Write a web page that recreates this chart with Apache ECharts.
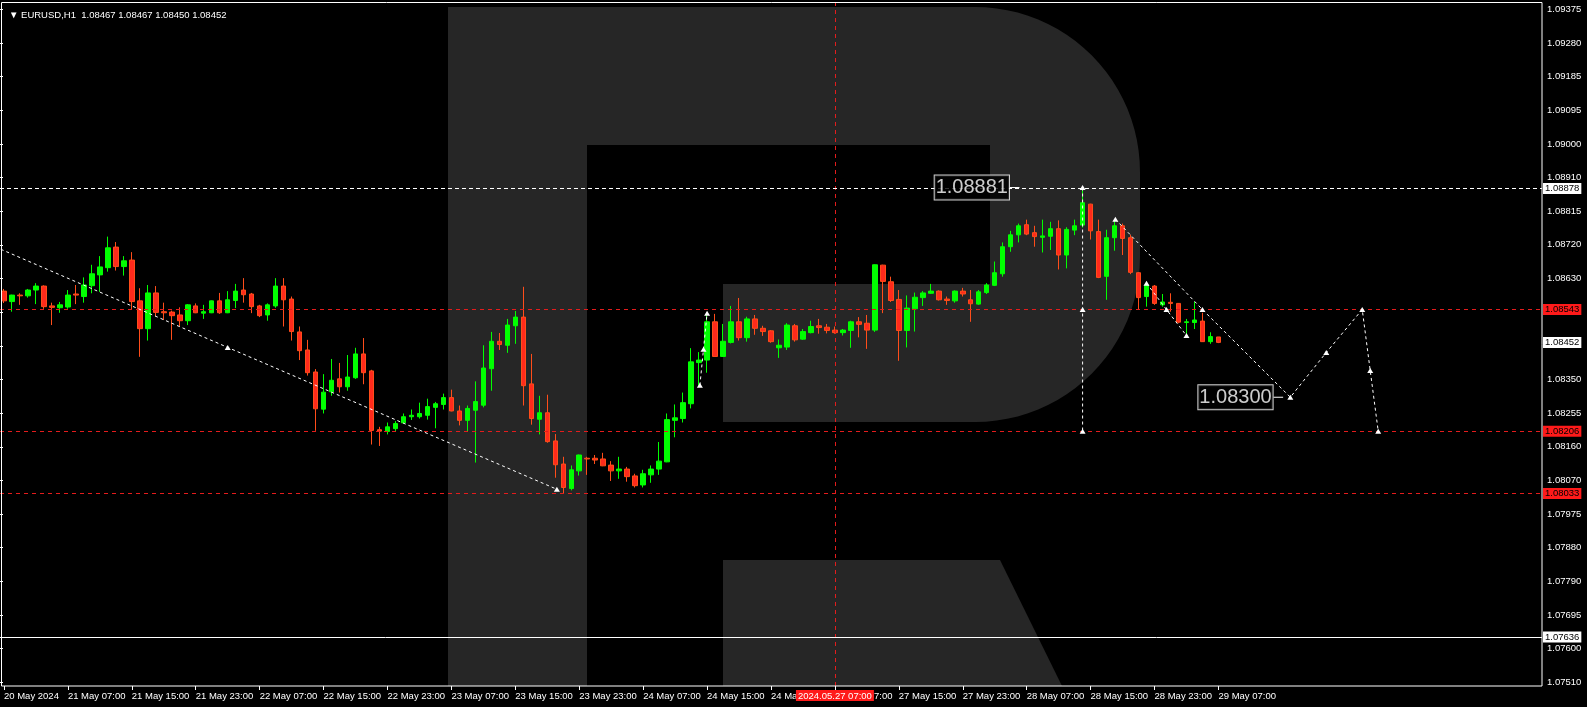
<!DOCTYPE html>
<html><head><meta charset="utf-8">
<script src="https://cdn.jsdelivr.net/npm/echarts@6/dist/echarts.min.js"></script>
<style>html,body{margin:0;padding:0;background:#000;overflow:hidden}#c{width:1587px;height:707px}</style>
</head><body><div id="c"></div>
<script>
// ---------- data ----------
const chartTitle = '▼ EURUSD,H1  1.08467 1.08467 1.08450 1.08452';
const firstBarTime = '2024-05-20T23:00:00Z';
const futureSlots = 40;
const timeTickLabels = ['20 May 2024','21 May 07:00','21 May 15:00','21 May 23:00','22 May 07:00','22 May 15:00','22 May 23:00','23 May 07:00','23 May 15:00','23 May 23:00','24 May 07:00','24 May 15:00','24 May 23:00','27 May 07:00','27 May 15:00','27 May 23:00','28 May 07:00','28 May 15:00','28 May 23:00','29 May 07:00'];
const priceTickLabels = ['1.07510','1.07600','1.07695','1.07790','1.07880','1.07975','1.08070','1.08160','1.08255','1.08350','1.08440','1.08535','1.08630','1.08720','1.08815','1.08910','1.09000','1.09095','1.09185','1.09280','1.09375'];
// hourly candles: [open, close, low, high]
const candles = [
[1.08594,1.08567,1.08561,1.08600],[1.08565,1.08583,1.08537,1.08584],[1.08583,1.08581,1.08556,1.08588],[1.08581,1.08597,1.08576,1.08600],
[1.08597,1.08608,1.08558,1.08616],[1.08608,1.08551,1.08545,1.08610],[1.08553,1.08549,1.08500,1.08562],[1.08548,1.08556,1.08534,1.08564],
[1.08550,1.08583,1.08545,1.08597],[1.08586,1.08583,1.08558,1.08611],[1.08579,1.08611,1.08562,1.08632],[1.08609,1.08642,1.08588,1.08667],
[1.08639,1.08661,1.08592,1.08691],[1.08659,1.08714,1.08648,1.08745],[1.08716,1.08662,1.08651,1.08730],[1.08662,1.08678,1.08637,1.08691],
[1.08680,1.08565,1.08544,1.08702],[1.08567,1.08490,1.08412,1.08602],[1.08490,1.08589,1.08457,1.08611],[1.08589,1.08535,1.08525,1.08608],
[1.08537,1.08534,1.08514,1.08562],[1.08536,1.08526,1.08459,1.08540],[1.08528,1.08512,1.08496,1.08549],[1.08512,1.08556,1.08500,1.08558],
[1.08553,1.08534,1.08533,1.08560],[1.08533,1.08537,1.08517,1.08556],[1.08534,1.08567,1.08533,1.08568],[1.08567,1.08534,1.08531,1.08589],
[1.08534,1.08570,1.08533,1.08594],[1.08568,1.08594,1.08547,1.08614],[1.08597,1.08584,1.08562,1.08630],[1.08586,1.08551,1.08533,1.08589],
[1.08553,1.08526,1.08522,1.08556],[1.08528,1.08556,1.08512,1.08560],[1.08553,1.08608,1.08548,1.08630],[1.08608,1.08570,1.08496,1.08630],
[1.08572,1.08482,1.08457,1.08579],[1.08481,1.08429,1.08403,1.08496],[1.08431,1.08368,1.08360,1.08459],[1.08370,1.08268,1.08207,1.08378],
[1.08267,1.08314,1.08255,1.08364],[1.08315,1.08347,1.08304,1.08406],[1.08351,1.08329,1.08313,1.08395],[1.08329,1.08356,1.08318,1.08417],
[1.08354,1.08420,1.08351,1.08437],[1.08420,1.08368,1.08336,1.08464],[1.08373,1.08208,1.08169,1.08376],[1.08210,1.08206,1.08165,1.08218],
[1.08205,1.08218,1.08197,1.08230],[1.08213,1.08227,1.08205,1.08234],[1.08229,1.08246,1.08228,1.08255],[1.08246,1.08250,1.08237,1.08266],
[1.08246,1.08255,1.08241,1.08285],[1.08250,1.08274,1.08238,1.08296],[1.08272,1.08282,1.08214,1.08287],[1.08280,1.08299,1.08266,1.08310],
[1.08299,1.08262,1.08261,1.08321],[1.08262,1.08236,1.08222,1.08277],[1.08236,1.08269,1.08204,1.08277],[1.08264,1.08288,1.08119,1.08344],
[1.08278,1.08381,1.08272,1.08444],[1.08379,1.08455,1.08318,1.08481],[1.08455,1.08446,1.08431,1.08478],[1.08444,1.08500,1.08423,1.08517],
[1.08498,1.08522,1.08448,1.08539],[1.08522,1.08332,1.08277,1.08606],[1.08337,1.08241,1.08224,1.08420],[1.08239,1.08257,1.08197,1.08304],
[1.08257,1.08177,1.08174,1.08307],[1.08179,1.08113,1.08077,1.08198],[1.08115,1.08050,1.08033,1.08135],[1.08047,1.08099,1.08042,1.08111],
[1.08096,1.08140,1.08083,1.08141],[1.08131,1.08129,1.08085,1.08135],[1.08131,1.08126,1.08115,1.08140],[1.08129,1.08110,1.08109,1.08146],
[1.08112,1.08096,1.08068,1.08123],[1.08096,1.08101,1.08074,1.08135],[1.08101,1.08080,1.08066,1.08107],[1.08082,1.08055,1.08050,1.08088],
[1.08057,1.08088,1.08050,1.08099],[1.08085,1.08101,1.08063,1.08111],[1.08101,1.08123,1.08085,1.08176],[1.08121,1.08238,1.08120,1.08255],
[1.08236,1.08243,1.08189,1.08280],[1.08241,1.08285,1.08230,1.08313],[1.08282,1.08398,1.08269,1.08436],[1.08396,1.08403,1.08329,1.08425],
[1.08403,1.08509,1.08368,1.08533],[1.08509,1.08413,1.08412,1.08531],[1.08413,1.08455,1.08412,1.08503],[1.08452,1.08509,1.08449,1.08553],
[1.08509,1.08465,1.08457,1.08575],[1.08465,1.08517,1.08454,1.08523],[1.08517,1.08491,1.08473,1.08528],[1.08491,1.08482,1.08470,1.08498],
[1.08484,1.08454,1.08451,1.08486],[1.08437,1.08444,1.08409,1.08460],[1.08439,1.08500,1.08431,1.08505],[1.08498,1.08459,1.08454,1.08503],
[1.08461,1.08482,1.08459,1.08489],[1.08479,1.08496,1.08477,1.08512],[1.08498,1.08493,1.08476,1.08517],[1.08494,1.08485,1.08477,1.08503],
[1.08486,1.08479,1.08476,1.08496],[1.08479,1.08486,1.08471,1.08489],[1.08485,1.08509,1.08437,1.08512],[1.08509,1.08502,1.08466,1.08522],
[1.08505,1.08486,1.08434,1.08528],[1.08486,1.08667,1.08481,1.08668],[1.08666,1.08621,1.08533,1.08667],[1.08620,1.08568,1.08564,1.08634],
[1.08571,1.08485,1.08401,1.08597],[1.08485,1.08547,1.08438,1.08582],[1.08545,1.08577,1.08482,1.08590],[1.08576,1.08589,1.08553,1.08594],
[1.08588,1.08594,1.08586,1.08614],[1.08594,1.08570,1.08568,1.08596],[1.08572,1.08568,1.08556,1.08579],[1.08567,1.08594,1.08562,1.08596],
[1.08594,1.08586,1.08579,1.08603],[1.08570,1.08559,1.08509,1.08597],[1.08558,1.08592,1.08556,1.08597],[1.08590,1.08611,1.08586,1.08616],
[1.08610,1.08645,1.08608,1.08676],[1.08642,1.08717,1.08634,1.08729],[1.08717,1.08750,1.08703,1.08761],[1.08750,1.08775,1.08729,1.08781],
[1.08778,1.08752,1.08749,1.08792],[1.08756,1.08745,1.08717,1.08775],[1.08743,1.08747,1.08701,1.08792],[1.08746,1.08767,1.08708,1.08786],
[1.08767,1.08694,1.08654,1.08790],[1.08694,1.08765,1.08657,1.08771],[1.08763,1.08775,1.08749,1.08792],[1.08777,1.08839,1.08770,1.08881],
[1.08835,1.08761,1.08737,1.08836],[1.08759,1.08632,1.08630,1.08792],[1.08635,1.08742,1.08570,1.08764],[1.08742,1.08775,1.08706,1.08791],
[1.08775,1.08740,1.08694,1.08781],[1.08742,1.08646,1.08641,1.08750],[1.08645,1.08576,1.08544,1.08646],[1.08579,1.08611,1.08551,1.08620],
[1.08608,1.08560,1.08556,1.08611],[1.08556,1.08564,1.08551,1.08586],[1.08563,1.08560,1.08537,1.08588],[1.08560,1.08508,1.08505,1.08561],
[1.08507,1.08509,1.08473,1.08517],[1.08507,1.08514,1.08489,1.08564],[1.08511,1.08454,1.08453,1.08534],[1.08454,1.08468,1.08448,1.08480],
[1.08467,1.08452,1.08450,1.08467]
];
// horizontal levels
const redLevels = [1.08543, 1.08206, 1.08033];
const highLevel = 1.08878;
const lowLevel = 1.07636;
const bidPrice = 1.08452;
const crosshairBar = 104;
// drawn objects: [bar position, price]
const trendLineA = [[-0.4,1.08710],[28,1.08438],[69.2,1.08045]];
const trendLineB = [[87.1,1.08333],[87.55,1.08433],[88.0,1.08533]];
const verticalDrop = [[135,1.08881],[135,1.08543],[135,1.08206]];
const forecastPath = [[139.1,1.08793],[150.0,1.08543],[161.0,1.08300],[165.5,1.08424],[170.0,1.08543],[171.0,1.08374],[172.0,1.08206]];
const waveLine = [[143,1.08616],[145.5,1.08543],[148,1.08471]];
const noteHigh = {text:'1.08881', price:1.08881, at:127.1, from:125.9};
const noteTarget = {text:'1.08300', price:1.08300, at:160.1, from:158.9};

// ---------- categories (hourly, weekend skipped) ----------
const categories = [];
{
  let t = new Date(firstBarTime);
  const total = candles.length + futureSlots;
  const p2 = n => String(n).padStart(2,'0');
  while (categories.length < total) {
    const d = t.getUTCDay();
    if (d !== 0 && d !== 6) {
      categories.push(t.getUTCFullYear()+'.'+p2(t.getUTCMonth()+1)+'.'+p2(t.getUTCDate())+' '+p2(t.getUTCHours())+':00');
    }
    t = new Date(t.getTime() + 3600000);
  }
}

const FONT = '"Liberation Sans",Arial,sans-serif';
const FS = 9.5;
const WHITE = '#ffffff';
const RED_LINE = '#e41c1c';
const LOGO = '#262626';
const GL = -1, GR = 45, GT = 2, GB = 21;
const nSlots = categories.length;
const showTick = i => i % 8 === 0 && i < candles.length;

// watermark outline (decoration)
function arcPts(cx, cy, r, a0, a1, n) {
  const out = [];
  for (let k = 0; k <= n; k++) {
    const a = a0 + (a1 - a0) * k / n;
    out.push([cx + r * Math.cos(a), cy + r * Math.sin(a)]);
  }
  return out;
}
const bowlOutline = [[587,7]]
  .concat(arcPts(975, 172, 165, -Math.PI / 2, 0, 24))
  .concat(arcPts(975, 257, 165, 0, Math.PI / 2, 24))
  .concat([[723,422],[723,284],[990,284],[990,145],[587,145]]);

function hLevel(v, color, type, bg, fg) {
  return {
    yAxis: v,
    lineStyle: {color: color, type: type, width: 1},
    label: {show: true, position: 'end', formatter: v.toFixed(5), backgroundColor: bg, color: fg,
      padding: [1, 2, 0, 2], distance: 1, fontFamily: FONT, fontSize: FS, lineHeight: 10}
  };
}

function pathSeries(points, markers) {
  return {
    type: 'line', xAxisIndex: 1, yAxisIndex: 0, silent: true, animation: false, z: 6,
    data: points.map((p, i) => ({value: p, symbol: markers.includes(i) ? 'triangle' : 'none'})),
    symbolSize: [6, 5], showSymbol: true,
    lineStyle: {color: WHITE, width: 1, type: [3, 3]},
    itemStyle: {color: WHITE}
  };
}
function solidSeries(points) {
  return {type: 'line', xAxisIndex: 1, yAxisIndex: 0, silent: true, animation: false, z: 6,
    data: points, symbol: 'none', lineStyle: {color: WHITE, width: 1}};
}
function noteSeries(n) {
  return {
    type: 'scatter', xAxisIndex: 1, yAxisIndex: 0, silent: true, animation: false, z: 7,
    data: [[n.at, n.price]], symbolSize: 1, itemStyle: {color: 'rgba(0,0,0,0)'},
    label: {show: true, position: 'left', distance: 10, formatter: n.text, color: WHITE,
      fontFamily: FONT, fontSize: 20, lineHeight: 21,
      backgroundColor: '#000', borderColor: WHITE, borderWidth: 1, padding: [2, 1, 1, 1]}
  };
}

const chart = echarts.init(document.getElementById('c'), null, {renderer: 'canvas'});
chart.setOption({
  backgroundColor: '#000',
  animation: false,
  title: {text: chartTitle, left: 4, top: 5,
    textStyle: {color: WHITE, fontSize: FS, fontWeight: 'normal', fontFamily: FONT}},
  grid: [
    {left: GL, right: GR, top: GT, bottom: GB},
    {left: GL, right: GR, top: 9.3, bottom: 24.7}
  ],
  xAxis: [
    {type: 'category', gridIndex: 0, data: categories, boundaryGap: true,
      axisLine: {show: false},
      axisTick: {show: true, interval: showTick, alignWithLabel: true, length: 4, lineStyle: {color: WHITE}},
      axisLabel: {show: true, interval: showTick, align: 'left', margin: 5, color: WHITE,
        fontFamily: FONT, fontSize: FS,
        formatter: (v, i) => timeTickLabels[i / 8] || ''},
      splitLine: {show: false}},
    {type: 'value', gridIndex: 0, min: -0.5, max: nSlots - 0.5, show: false},
    {type: 'value', gridIndex: 1, min: 0, max: 1, show: false}
  ],
  yAxis: [
    {type: 'value', gridIndex: 0, position: 'right', min: 1.07500, max: 1.09395, scale: true,
      axisLine: {show: false}, axisTick: {show: false}, axisLabel: {show: false}, splitLine: {show: false}},
    {type: 'category', gridIndex: 1, position: 'right', data: priceTickLabels, boundaryGap: false,
      axisLine: {show: false},
      axisTick: {show: true, length: 3, lineStyle: {color: WHITE}},
      axisLabel: {color: WHITE, fontFamily: FONT, fontSize: FS, margin: 5},
      splitLine: {show: false}}
  ],
  graphic: [
    {type: 'rect', z: -10, silent: true, shape: {x: 448, y: 7, width: 139, height: 679}, style: {fill: LOGO}},
    {type: 'polygon', z: -10, silent: true, shape: {points: bowlOutline}, style: {fill: LOGO}},
    {type: 'polygon', z: -10, silent: true, shape: {points: [[723,560],[1000,560],[1062,686],[723,686]]}, style: {fill: LOGO}},
    {type: 'rect', z: 20, silent: true, shape: {x: 1.5, y: 2.5, width: 1540.5, height: 683.5}, style: {fill: null, stroke: WHITE, lineWidth: 1}}
  ],
  series: [
    {
      type: 'candlestick', xAxisIndex: 0, yAxisIndex: 0, data: candles, barWidth: 5, z: 4,
      itemStyle: {color: '#00ff00', color0: '#ff2a1c', borderColor: '#00ff00', borderColor0: '#ff4d1a', borderWidth: 1},
      silent: true,
      markLine: {
        silent: true, symbol: ['none', 'none'], animation: false,
        data: [
          {xAxis: crosshairBar, lineStyle: {color: RED_LINE, type: [4, 4], width: 1},
            label: {show: true, position: 'start', formatter: categories[crosshairBar], backgroundColor: '#ff1a1a',
              color: WHITE, padding: [1, 2, 0, 2], distance: 4, fontFamily: FONT, fontSize: FS, lineHeight: 10}}
        ]
      }
    },
    {
      type: 'line', xAxisIndex: 1, yAxisIndex: 0, silent: true, animation: false, z: 3,
      data: [[0, bidPrice]], symbol: 'none', lineStyle: {opacity: 0},
      markLine: {
        silent: true, symbol: ['none', 'none'], animation: false, precision: 5,
        data: [
          hLevel(highLevel, WHITE, [4, 3], WHITE, '#000'),
          hLevel(redLevels[0], RED_LINE, [4, 4], '#ff1a1a', '#000'),
          hLevel(redLevels[1], RED_LINE, [4, 4], '#ff1a1a', '#000'),
          hLevel(redLevels[2], RED_LINE, [4, 4], '#ff1a1a', '#000'),
          hLevel(lowLevel, WHITE, 'solid', WHITE, '#000'),
          hLevel(bidPrice, 'rgba(0,0,0,0)', 'solid', WHITE, '#000')
        ]
      }
    },
    pathSeries(trendLineA, [1, 2]),
    pathSeries(trendLineB, [0, 1, 2]),
    pathSeries(verticalDrop, [0, 1, 2]),
    pathSeries(forecastPath, [0, 1, 2, 3, 4, 5, 6]),
    pathSeries(waveLine, [0, 1, 2]),
    solidSeries([[noteHigh.from, noteHigh.price], [noteHigh.at, noteHigh.price]]),
    solidSeries([[noteTarget.from, noteTarget.price], [noteTarget.at, noteTarget.price]]),
    noteSeries(noteHigh),
    noteSeries(noteTarget)
  ]
});
</script></body></html>
